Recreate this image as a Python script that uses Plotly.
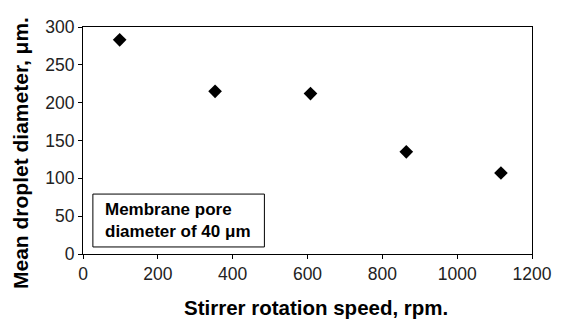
import plotly.graph_objects as go

speed_rpm = [98, 353, 608, 864, 1117]
diameter_um = [283, 215, 212, 135, 107]
x_ticks = [0, 200, 400, 600, 800, 1000, 1200]
y_ticks = [0, 50, 100, 150, 200, 250, 300]

FONT = "Liberation Sans, Arial, sans-serif"

fig = go.Figure()
fig.add_trace(go.Scatter(
    x=speed_rpm, y=diameter_um, mode="markers",
    marker=dict(symbol="diamond", size=10.5, color="black", line=dict(width=0)),
    showlegend=False, hoverinfo="x+y",
))

axis_common = dict(
    showgrid=False, zeroline=False, showline=True, linecolor="black", linewidth=1,
    mirror=True, ticks="outside", ticklen=4, tickcolor="black", tickwidth=1,
    tickfont=dict(family=FONT, size=17.5, color="#222"),
)

fig.update_xaxes(range=[0, 1200], tickvals=x_ticks, **axis_common)
fig.update_yaxes(range=[0, 300], tickvals=y_ticks, **axis_common)

# axis titles (placed as annotations to match the reference offsets)
fig.add_annotation(xref="paper", yref="paper", x=(320 - 83) / 456, y=-(320 - 254) / 227,
                   xanchor="center", yanchor="bottom", showarrow=False, borderpad=0,
                   text="<b>Stirrer rotation speed, rpm.</b>",
                   font=dict(family=FONT, size=20.5, color="black"))
fig.add_annotation(xref="paper", yref="paper", x=-(83 - 19) / 456, y=(254 - 153) / 227,
                   xanchor="center", yanchor="middle", showarrow=False, textangle=-90,
                   text="<b>Mean droplet diameter, μm.</b>",
                   font=dict(family=FONT, size=21, color="black"))

fig.add_shape(type="rect", xref="paper", yref="paper",
              x0=0.022, x1=0.404, y0=0.031, y1=0.264,
              line=dict(color="black", width=1), fillcolor="white", layer="above")
fig.add_annotation(xref="paper", yref="paper", x=0.044, y=0.148,
                   xanchor="left", yanchor="middle", align="left", showarrow=False,
                   text="<b>Membrane pore<br>diameter of 40 μm</b>",
                   font=dict(family=FONT, size=17, color="black"))

fig.update_layout(
    width=564, height=320,
    margin=dict(l=83, r=25, t=27, b=66),
    paper_bgcolor="white", plot_bgcolor="white",
    font=dict(family=FONT),
)

fig.write_html("out.html")
